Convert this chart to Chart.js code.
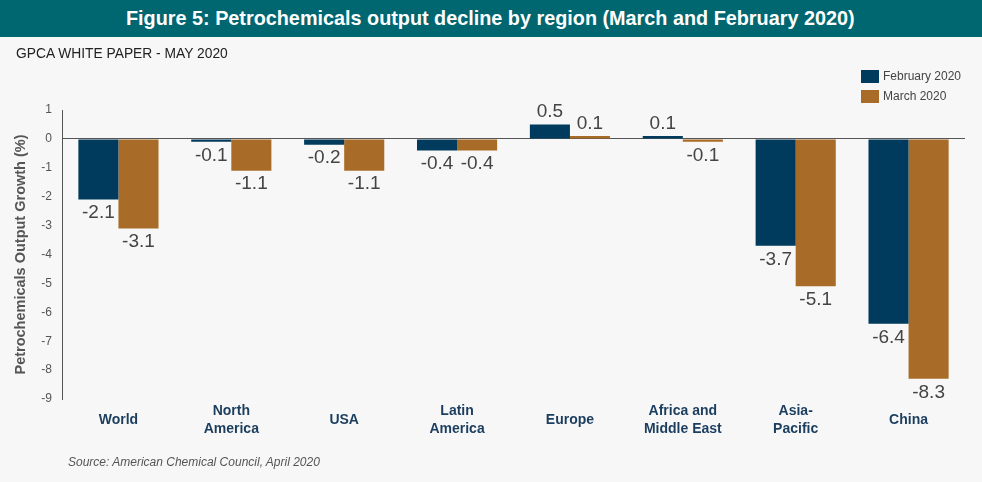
<!DOCTYPE html>
<html>
<head>
<meta charset="utf-8">
<script src="https://cdn.jsdelivr.net/npm/chart.js@4.4.1/dist/chart.umd.min.js"></script>
<style>
  html,body{margin:0;padding:0;background:#f7f7f7;}
  #wrap{position:relative;width:982px;height:482px;overflow:hidden;background:#f7f7f7;font-family:"Liberation Sans",Arial,sans-serif;}
  #bar{position:absolute;left:0;top:0;width:982px;height:37px;background:#006670;}
  #barText{position:absolute;left:126px;top:6px;white-space:nowrap;color:#fff;font:bold 21px "Liberation Sans",Arial,sans-serif;transform-origin:0 0;}
  #sub{position:absolute;left:16px;top:45px;white-space:nowrap;font:14px "Liberation Sans",Arial,sans-serif;color:#222;transform-origin:0 0;}
  #src{position:absolute;left:68px;top:455px;font:italic 12px "Liberation Sans",Arial,sans-serif;color:#555;}
  #c{position:absolute;left:0;top:0;}
</style>
</head>
<body>
<div id="wrap">
  <canvas id="c" width="982" height="482"></canvas>
  <div id="bar"><span id="barText">Figure 5: Petrochemicals output decline by region (March and February 2020)</span></div>
  <span id="sub">GPCA WHITE PAPER - MAY 2020</span>
  <div id="src">Source: American Chemical Council, April 2020</div>
</div>
<script>
const categories = [['World'], ['North','America'], ['USA'], ['Latin','America'], ['Europe'], ['Africa and','Middle East'], ['Asia-','Pacific'], ['China']];
const february = [-2.1, -0.1, -0.2, -0.4, 0.5, 0.1, -3.7, -6.4];
const march = [-3.1, -1.1, -1.1, -0.4, 0.1, -0.1, -5.1, -8.3];
const seriesNames = ['February 2020', 'March 2020'];
const yTicks = [1, 0, -1, -2, -3, -4, -5, -6, -7, -8, -9];

const FEB = '#003a5c', MAR = '#a86c28';

// squeeze the header texts to the reference widths
function squeeze(id, w){
  const el = document.getElementById(id);
  el.style.display = 'inline-block';
  el.style.transform = 'scaleX(' + (w / el.offsetWidth) + ')';
}
squeeze('barText', 729);
squeeze('sub', 212);

// labels, values and legend drawn by hand
const extras = {
  id:'extras',
  afterDatasetsDraw(chart){
    const ctx = chart.ctx, x = chart.scales.x;
    ctx.save();
    // category labels, vertically centered
    ctx.font = 'bold 14px "Liberation Sans", Arial, sans-serif';
    ctx.fillStyle = '#1b3d5e';
    ctx.textAlign = 'center';
    ctx.textBaseline = 'middle';
    categories.forEach((lines,i)=>{
      const cx = x.getPixelForValue(i);
      const y0 = 420 - (lines.length-1)*9;
      lines.forEach((l,k)=> ctx.fillText(l, cx, y0 + k*18));
    });
    // value labels
    ctx.font = '19px "Liberation Sans", Arial, sans-serif';
    ctx.fillStyle = '#444';
    chart.data.datasets.forEach((ds,di)=>{
      chart.getDatasetMeta(di).data.forEach((bar,i)=>{
        const v = ds.data[i];
        if(v < 0){ ctx.textBaseline='top'; ctx.fillText(v.toFixed(1), bar.x, bar.y + 4); }
        else { ctx.textBaseline='bottom'; ctx.fillText(v.toFixed(1), bar.x, bar.y - 3); }
      });
    });
    // legend
    ctx.font = '12px "Liberation Sans", Arial, sans-serif';
    ctx.textAlign = 'left';
    ctx.textBaseline = 'middle';
    chart.data.datasets.forEach((ds,di)=>{
      const y = 70 + di*20;
      ctx.fillStyle = ds.backgroundColor;
      ctx.fillRect(861, y, 18, 13);
      ctx.fillStyle = '#444';
      ctx.fillText(ds.label, 883, y + 7);
    });
    ctx.restore();
  }
};

new Chart(document.getElementById('c'), {
  type:'bar',
  data:{
    labels: categories,
    datasets:[
      { label:seriesNames[0], data:february, backgroundColor:FEB, categoryPercentage:0.71, barPercentage:1 },
      { label:seriesNames[1], data:march, backgroundColor:MAR, categoryPercentage:0.71, barPercentage:1 }
    ]
  },
  options:{
    responsive:false,
    animation:false,
    layout:{ padding:{ top:110, right:17, bottom:75, left:0 } },
    plugins:{ legend:{display:false}, tooltip:{enabled:false} },
    scales:{
      x:{
        ticks:{display:false},
        grid:{display:false},
        border:{display:false}
      },
      y:{
        min:-9, max:1,
        afterBuildTicks(s){ s.ticks = yTicks.map(v=>({value:v})); },
        afterFit(s){ s.width = 62; },
        ticks:{ color:'#555', font:{size:12, family:'"Liberation Sans", Arial, sans-serif'}, padding:10 },
        grid:{ drawTicks:false, color:c=> c.tick && c.tick.value===0 ? '#555' : 'rgba(0,0,0,0)', lineWidth:1 },
        border:{ display:true, color:'#555' },
        title:{ display:true, text:'Petrochemicals Output Growth (%)', color:'#555',
                font:{size:14.5, weight:'bold', family:'"Liberation Sans", Arial, sans-serif'}, padding:{top:12,bottom:0} }
      }
    }
  },
  plugins:[extras]
});
</script>
</body>
</html>
